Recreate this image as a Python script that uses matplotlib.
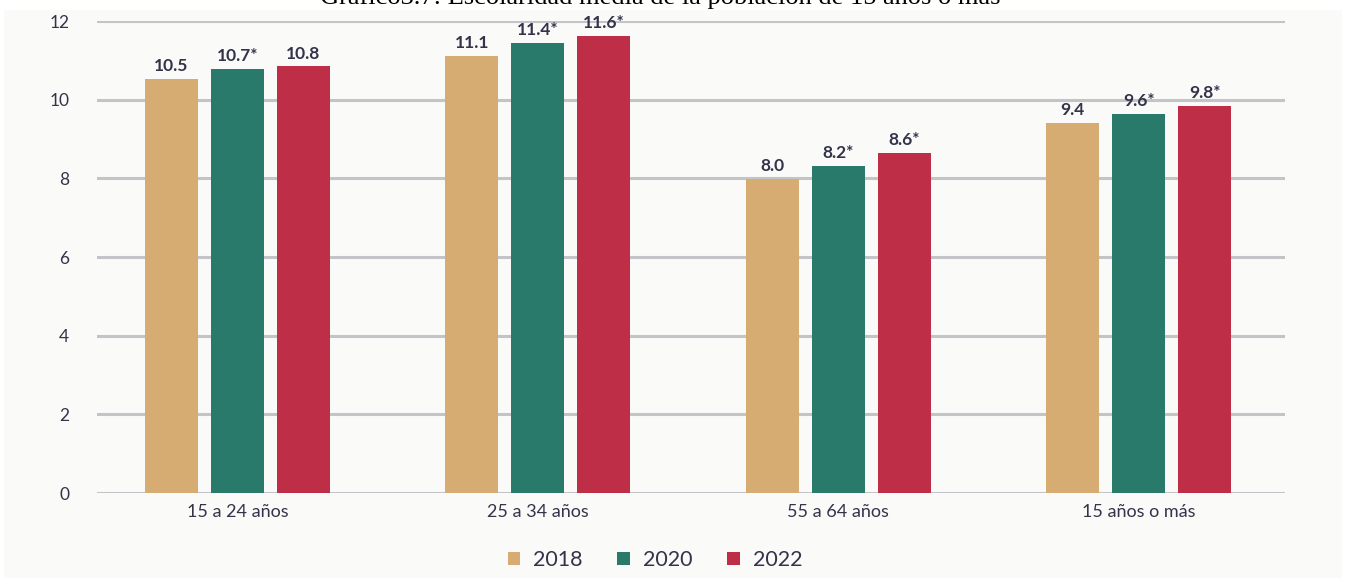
import matplotlib
matplotlib.use("Agg")
import matplotlib.pyplot as plt
from matplotlib.patches import Rectangle
import numpy as np

categories = ["15 a 24 años", "25 a 34 años", "55 a 64 años", "15 años o más"]
years = ["2018", "2020", "2022"]
v2018 = [10.53, 11.12, 7.98, 9.41]
v2020 = [10.79, 11.44, 8.31, 9.64]
v2022 = [10.85, 11.62, 8.64, 9.84]
lab2018 = ["10.5", "11.1", "8.0", "9.4"]
lab2020 = ["10.7*", "11.4*", "8.2*", "9.6*"]
lab2022 = ["10.8", "11.6*", "8.6*", "9.8*"]
colors = ["#D6AC72", "#2A7A6C", "#BE2E47"]
yticks = [0, 2, 4, 6, 8, 10, 12]
title = "Gráfico3.7: Escolaridad media de la población de 15 años o más"

W, H = 1346, 578
fig = plt.figure(figsize=(W / 100, H / 100), dpi=100, facecolor="white")
fig.patches.append(Rectangle((4 / W, 0), 1 - 8 / W, 1 - 10 / H, transform=fig.transFigure,
                             facecolor="#FAFAF8", edgecolor="none", zorder=-10))
fig.text(660 / W, 1 - 4 / H, title, family="Liberation Serif", fontsize=19,
         ha="center", va="baseline", color="black")

ax = fig.add_axes([97 / W, 1 - 493 / H, (1285 - 97) / W, (493 - 21) / H])
ax.set_facecolor("none")
x = np.arange(len(categories))
width = 0.177
off = 0.22
txtc = "#33334A"
for i, (vals, labs, c, yr) in enumerate(zip([v2018, v2020, v2022], [lab2018, lab2020, lab2022], colors, years)):
    xs = x + (i - 1) * off
    ax.bar(xs, vals, width=width, color=c, label=yr, zorder=3)
    for xi, v, l in zip(xs, vals, labs):
        ax.text(xi, v + 0.12, l, ha="center", va="bottom", fontsize=12.5,
                fontweight="bold", family="Lato", color=txtc)

ax.set_xlim(-0.467, 3.487)
ax.set_ylim(0, 12)
ax.set_yticks(yticks)
ax.set_yticklabels([str(t) for t in yticks], family="Lato", fontsize=12.5, color=txtc)
ax.set_xticks(x)
ax.set_xticklabels(categories, family="Lato", fontsize=13, color=txtc)
ax.tick_params(axis="both", length=0)
ax.tick_params(axis="y", pad=20)
ax.tick_params(axis="x", pad=8)
ax.grid(axis="y", color="#C4C4C8", linewidth=2.2, zorder=0)
for s in ax.spines.values():
    s.set_visible(False)

leg = fig.legend(loc="center", bbox_to_anchor=(655 / W, 1 - 560 / H), ncol=3, frameon=False,
                 prop={"family": "Lato", "size": 15.5}, handlelength=0.6, handleheight=0.6,
                 columnspacing=1.6, handletextpad=0.6)
for t in leg.get_texts():
    t.set_color(txtc)

fig.savefig("out.png", dpi=100, facecolor="white")
